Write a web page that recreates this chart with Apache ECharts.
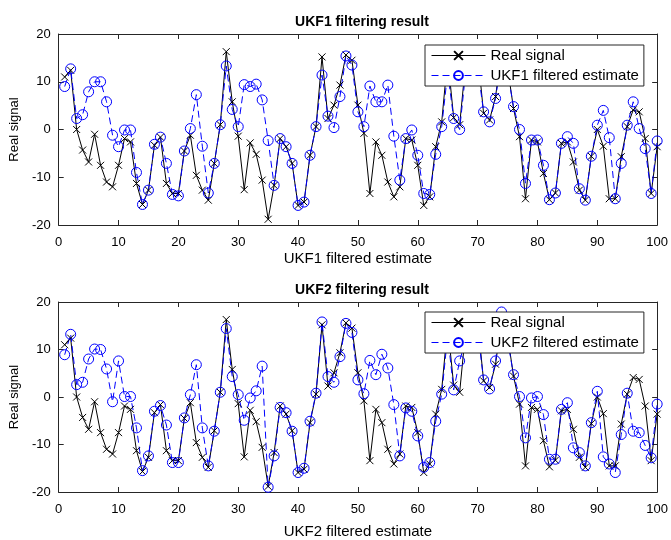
<!DOCTYPE html>
<html>
<head>
<meta charset="utf-8">
<script src="https://cdn.jsdelivr.net/npm/echarts@6/dist/echarts.min.js"></script>
<style>
  html, body { margin: 0; padding: 0; background: #fff; }
  #chart { width: 671px; height: 540px; }
</style>
</head>
<body>
<div id="chart"></div>
<script>
// values, steps 1..100
const realSignal = [
  11, 12.4, 0, -4.3, -6.8, -1, -7.5, -11, -12, -7.5,
  -1.9, -2.6, -11.3, -15.7, -12.7, -3.3, -1.6, -11.3, -13.4, -13.4,
  -4.5, -1.2, -9.6, -12.7, -14.8, -7.1, 1, 16.3, 5.8, -1.4,
  -12.6, -2.8, -5.2, -10.6, -18.8, -11.7, -1.9, -3.6, -7.1, -15.9,
  -15.2, -5.4, 0.6, 15.2, 2.3, 5.1, 9.3, 15.6, 14.5, 5.1,
  -0.8, -13.4, -2.6, -5.4, -11, -14.1, -12, -1.9, -2.2, -7.5,
  -15.9, -14.1, -3.6, 1.6, 15, 2.5, 1, 14, 11, 16,
  3.4, 2, 6.9, 16.5, 13, 4.4, -1.5, -14.5, -2.2, -2.6,
  -9.2, -14.7, -13.3, -2.9, -2.6, -6.8, -12.7, -14.8, -5.6, 0,
  -3.5, -14.5, -14.5, -5.7, 0.6, 4.1, 3.7, -1.9, -13.4, -3.6
];
const ukf1Estimate = [
  9, 12.7, 2.3, 3.1, 7.9, 10, 10, 5.8, -1.2, -3.6,
  -0.1, -0.1, -9, -15.7, -12.7, -3.1, -1.6, -7.1, -13.6, -13.9,
  -4.5, 0.2, 7.3, -3.5, -13.3, -7.1, 1, 13.3, 4.2, 0.6,
  9.4, 9, 9.5, 6.2, -2.3, -11.7, -1.9, -3.6, -7.1, -15.9,
  -15.2, -5.4, 0.6, 11.4, 2.8, 0.4, 6.9, 15.4, 13.5, 3.7,
  0.6, 9.1, 5.8, 5.8, 9.3, -1.4, -10.6, -1.9, -0.1, -5.4,
  -13.4, -13.6, -5.2, 0.6, 12, 2.3, 0, 12, 12, 13,
  3.7, 1.6, 6.5, 15, 12, 4.8, 0, -11.3, -2.2, -2.2,
  -7.5, -14.7, -13.3, -2.9, -1.5, -2.9, -12.4, -14.8, -5.6, 0.9,
  4, -1.7, -14.5, -7.1, 0.9, 5.8, 0.2, -4, -13.4, -2.4
];
const ukf2Estimate = [
  8.9, 13.2, 2.6, 3.1, 8, 10.1, 10, 5.9, -1, 7.6,
  0.1, 0.1, -6.5, -15.5, -12.4, -3, -1.8, -5.9, -13.8, -13.8,
  -4.4, 0.5, 6.8, -6.5, -14.5, -7.2, 1, 14.4, 4.3, 0.5,
  -4.9, -0.2, 1.3, 6.5, -19, -12.4, -2.2, -3.3, -7.2, -15.9,
  -15, -5.1, 0.8, 15.8, 4.3, 3.1, 8.5, 15.5, 13.6, 3.6,
  0.7, 7.7, 4.7, 9, 6.1, -1.6, -12.4, -2.3, -3, -8.2,
  -14.8, -13.8, -5.1, 0.6, 13, 1.5, 7.6, 12, 11, 14,
  3.6, 1.7, 7.6, 17.9, 12, 4.7, 0.1, -8.6, -0.2, 0.1,
  -3.7, -13.1, -13.1, -2.6, -1.2, -10.7, -11.7, -14.5, -5.4, 1.2,
  -12.6, -14.1, -15.9, -7.9, 0.8, -7.2, -7.5, -10.2, -12.8, -1.5
];
const steps = realSignal.map((v, i) => i + 1);
const pairs = (vals) => vals.map((v, i) => [steps[i], v]);

const font = 'Liberation Sans, Arial, sans-serif';
const axisColor = '#262626';
const crossPath = 'path://M0,0L10,10M10,0L0,10';

function xAxes(grid, name, gap) {
  return [
    {
      gridIndex: grid, type: 'value', min: 0, max: 100, interval: 10,
      axisLine: { show: true, onZero: false, lineStyle: { color: axisColor } },
      axisTick: { inside: true, length: 5, lineStyle: { color: axisColor } },
      axisLabel: { color: '#000', fontSize: 13, fontFamily: font, margin: 11 },
      splitLine: { show: false },
      name: name, nameLocation: 'middle', nameGap: gap,
      nameTextStyle: { color: '#000', fontSize: 15, fontFamily: font }
    },
    {
      gridIndex: grid, type: 'value', min: 0, max: 100, interval: 10, position: 'top',
      axisLine: { show: true, onZero: false, lineStyle: { color: axisColor } },
      axisTick: { inside: true, length: 5, lineStyle: { color: axisColor } },
      axisLabel: { show: false }, splitLine: { show: false }
    }
  ];
}
function yAxes(grid) {
  return [
    {
      gridIndex: grid, type: 'value', min: -20, max: 20, interval: 10,
      axisLine: { show: true, onZero: false, lineStyle: { color: axisColor } },
      axisTick: { inside: true, length: 5, lineStyle: { color: axisColor } },
      axisLabel: { color: '#000', fontSize: 13, fontFamily: font, margin: 8 },
      splitLine: { show: false },
      name: 'Real signal', nameLocation: 'middle', nameGap: 32,
      nameTextStyle: { color: '#000', fontSize: 13, fontFamily: font }
    },
    {
      gridIndex: grid, type: 'value', min: -20, max: 20, interval: 10, position: 'right',
      axisLine: { show: true, onZero: false, lineStyle: { color: axisColor } },
      axisTick: { inside: true, length: 5, lineStyle: { color: axisColor } },
      axisLabel: { show: false }, splitLine: { show: false }
    }
  ];
}
function realSeries(grid) {
  return {
    name: 'Real signal', type: 'line', xAxisIndex: grid * 2, yAxisIndex: grid * 2,
    data: pairs(realSignal),
    symbol: crossPath, symbolSize: 7,
    itemStyle: { color: '#000', borderColor: '#000', borderWidth: 1 },
    lineStyle: { color: '#000', width: 1 }
  };
}
function estSeries(grid, name, vals) {
  return {
    name: name, type: 'line', xAxisIndex: grid * 2, yAxisIndex: grid * 2,
    data: pairs(vals),
    symbol: 'circle', symbolSize: 10,
    itemStyle: { color: 'rgba(0,0,0,0)', borderColor: '#0000ff', borderWidth: 1 },
    lineStyle: { color: '#0000ff', width: 1, type: [7, 4] }
  };
}
function legendAt(top, estName) {
  return {
    orient: 'vertical', left: 425, top: top,
    data: ['Real signal', estName],
    itemWidth: 54, itemHeight: 11, itemGap: 5,
    padding: [3, 5, 3, 6],
    lineStyle: { width: 1 },
    backgroundColor: '#fff', borderColor: axisColor, borderWidth: 1,
    textStyle: { color: '#000', fontSize: 15, fontFamily: font }
  };
}

const graph = echarts.init(document.getElementById('chart'));
const option = {
  animation: false,
  backgroundColor: '#fff',
  title: [
    { text: 'UKF1 filtering result', left: 357, top: 10, textAlign: 'center',
      textStyle: { fontSize: 14, fontWeight: 'bold', color: '#000', fontFamily: font } },
    { text: 'UKF2 filtering result', left: 357, top: 278, textAlign: 'center',
      textStyle: { fontSize: 14, fontWeight: 'bold', color: '#000', fontFamily: font } }
  ],
  legend: [legendAt(45, 'UKF1 filtered estimate'), legendAt(312, 'UKF2 filtered estimate')],
  grid: [
    { left: 58, right: 13, top: 34, height: 191 },
    { left: 58, right: 13, top: 302, height: 191 }
  ],
  xAxis: [...xAxes(0, 'UKF1 filtered estimate', 26), ...xAxes(1, 'UKF2 filtered estimate', 32)],
  yAxis: [...yAxes(0), ...yAxes(1)],
  series: [
    realSeries(0), estSeries(0, 'UKF1 filtered estimate', ukf1Estimate),
    realSeries(1), estSeries(1, 'UKF2 filtered estimate', ukf2Estimate)
  ]
};
graph.setOption(option);
</script>
</body>
</html>
